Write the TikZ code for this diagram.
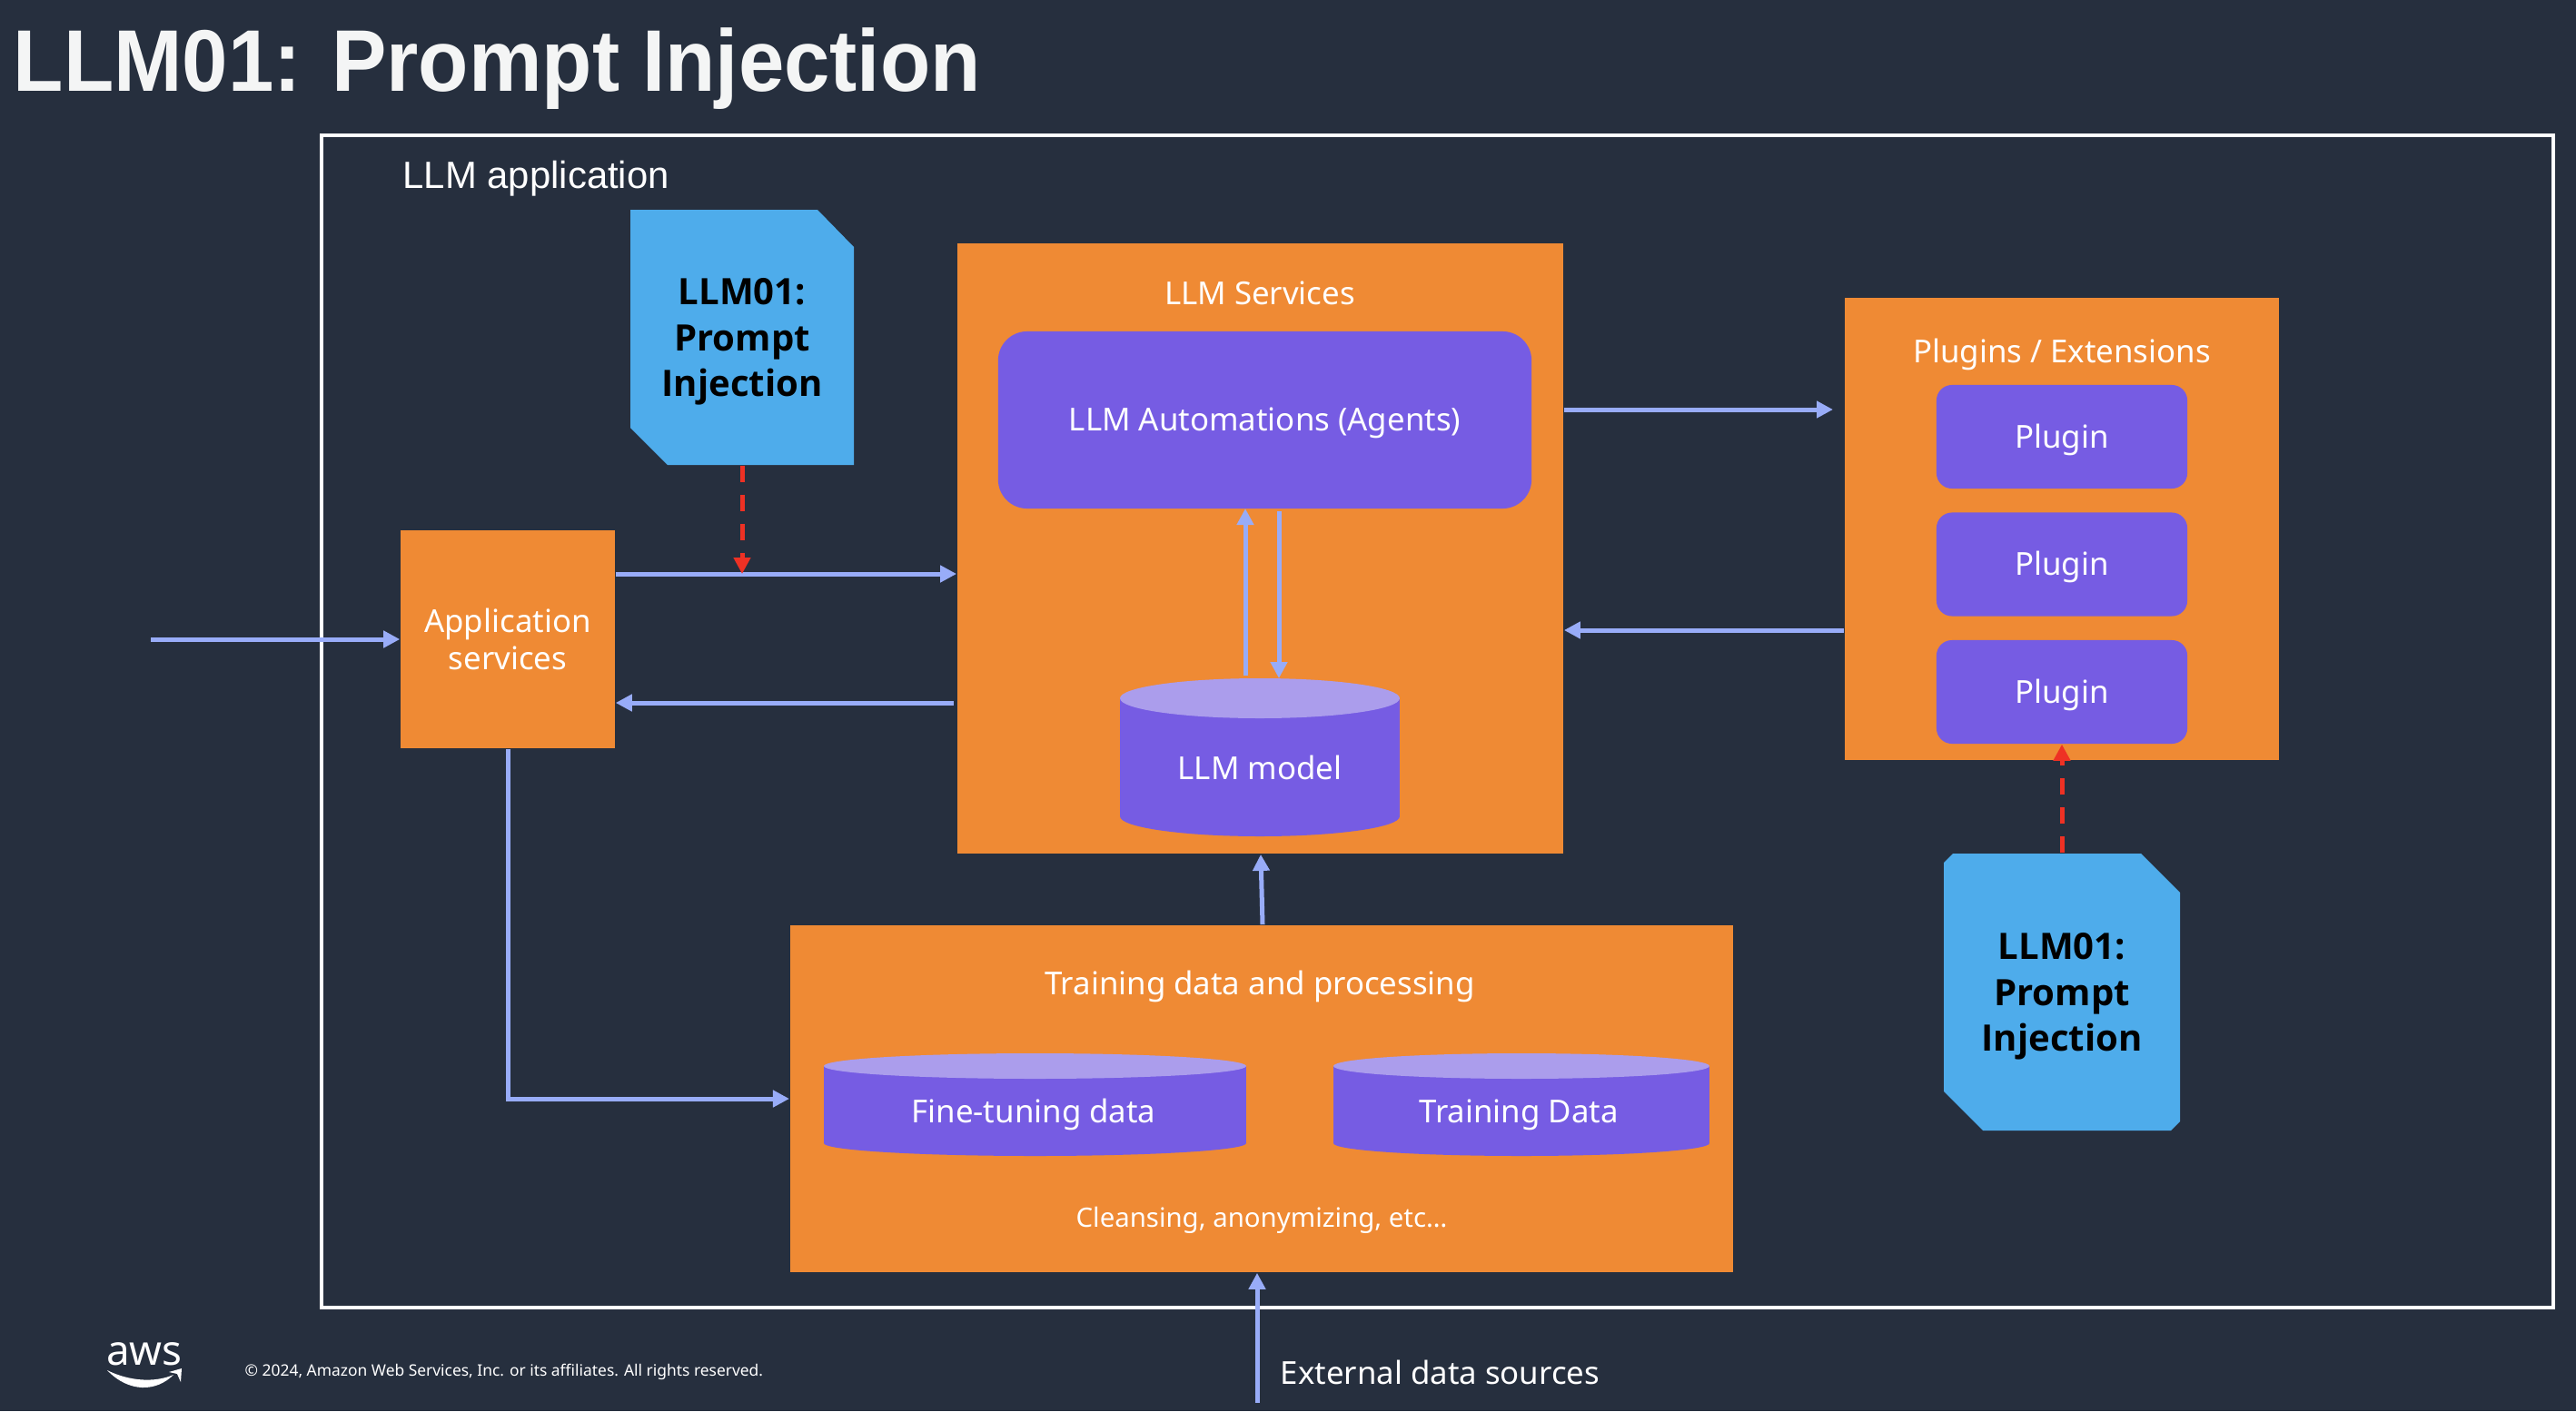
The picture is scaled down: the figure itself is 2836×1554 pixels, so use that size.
\documentclass[tikz,border=0pt]{standalone}
\usepackage{fontspec}
\setmainfont{Noto Sans}
\newfontfamily\titlefont[FakeStretch=0.94]{Liberation Sans}
\newfontfamily\helvfont{Liberation Sans}
\newfontfamily\notefont{Open Sans}
\usetikzlibrary{arrows.meta}
\definecolor{slidebg}{RGB}{38,47,62}
\definecolor{awsorange}{RGB}{239,138,52}
\definecolor{awspurple}{RGB}{118,92,227}
\definecolor{lightpurple}{RGB}{171,157,236}
\definecolor{noteblue}{RGB}{78,172,235}
\definecolor{flowblue}{RGB}{152,172,248}
\definecolor{injectred}{RGB}{238,49,36}
\tikzset{
    orangebox/.style={fill=awsorange, text=white, inner sep=0pt, align=center, font=\fontsize{9.9}{11.8}\selectfont},
    pluginbox/.style={fill=awspurple, text=white, rounded corners=0.17cm, inner sep=0pt, minimum width=2.76cm, minimum height=1.14cm, text height=0.71em, text depth=0pt, font=\fontsize{9.9}{12}\selectfont},
    boxlabel/.style={text=white, inner sep=0pt, text height=0.71em, text depth=0pt, font=\fontsize{9.9}{12}\selectfont},
    notelabel/.style={inner sep=0pt, align=center, text=black, font=\notefont\fontsize{11.4}{14.37}\selectfont\bfseries},
    flow/.style={draw=flowblue, line width=0.05cm, -{Triangle[length=0.18cm,width=0.18cm]}},
    inject/.style={draw=injectred, line width=0.05cm, dash pattern=on 0.18cm off 0.14cm, -{Triangle[length=0.18cm,width=0.18cm]}}
}
% centre x, y of the lid, y of the base, radii
\newcommand{\datadrum}[5]{
    \fill[awspurple] (#1-#4,#2) rectangle (#1+#4,#3);
    \fill[awspurple] (#1,#3) ellipse [x radius=#4, y radius=#5];
    \fill[lightpurple] (#1,#2) ellipse [x radius=#4, y radius=#5];
}
\begin{document}
\begin{tikzpicture}[x=0.01cm,y=-0.01cm]
    % Slide background
    \fill[slidebg] (0,0) rectangle (2836,1554);
    \useasboundingbox (0,0) rectangle (2836,1554);
    % Title and outer frame
    \node[anchor=west, inner sep=0pt, text height=0.69cm, text depth=0pt, text=white!95!slidebg, font=\titlefont\fontsize{27.4}{32}\selectfont\bfseries] (title) at (14,65.5) {LLM01: Prompt Injection};
    \draw[white, line width=0.035cm] (354,149) rectangle (2811,1440);
    \node[anchor=west, inner sep=0pt, text height=0.30cm, text depth=0pt, text=white, font=\helvfont\fontsize{11.9}{14}\selectfont] (applabel) at (443,192) {LLM application};
    % Boxes
    \node[orangebox, minimum width=2.36cm, minimum height=2.40cm] (appservices) at (559,704) {Application\\services};
    \node[orangebox, minimum width=6.67cm, minimum height=6.72cm] (llmservices) at (1387.5,604) {};
    \node[orangebox, minimum width=4.78cm, minimum height=5.09cm] (plugins) at (2270,582.5) {};
    \node[orangebox, minimum width=10.38cm, minimum height=3.82cm] (training) at (1389,1210) {};
    \node[boxlabel] (llmlabel) at (1387,323) {LLM Services};
    \node[boxlabel] (pluginslabel) at (2270,387) {Plugins / Extensions};
    \node[boxlabel] (traininglabel) at (1387,1083) {Training data and processing};
    \node[boxlabel, font=\fontsize{8.35}{10}\selectfont] (cleanlabel) at (1389,1339) {Cleansing, anonymizing, etc\dots};
    % Purple parts
    \node[fill=awspurple, text=white, rounded corners=0.32cm, inner sep=0pt, minimum width=5.87cm, minimum height=1.95cm, text height=0.71em, text depth=0pt, font=\fontsize{9.9}{12}\selectfont] (agents) at (1392.5,462.5) {LLM Automations (Agents)};
    \node[pluginbox] (pluginone) at (2270,481) {Plugin};
    \node[pluginbox] (plugintwo) at (2270,621.5) {Plugin};
    \node[pluginbox] (pluginthree) at (2270,762) {Plugin};
    \datadrum{1387}{769}{899}{154}{22}
    \node[boxlabel] (modellabel) at (1387,846) {LLM model};
    \datadrum{1139.5}{1174}{1259}{232.5}{14}
    \node[boxlabel] (finelabel) at (1138,1224) {Fine-tuning data};
    \datadrum{1675}{1174}{1259}{207}{14}
    \node[boxlabel] (trainsetlabel) at (1672,1224) {Training Data};
    % The two notes
    \fill[noteblue] (694,231) -- (900,231) -- (940,272) -- (940,512) -- (735,512) -- (694,471) -- cycle;
    \node[notelabel, minimum width=2.46cm, minimum height=2.71cm] (noteapp) at (817,376.5) {LLM01:\\Prompt\\Injection};
    \fill[noteblue] (2150,940) -- (2357,940) -- (2400,983) -- (2400,1235) -- (2390,1245) -- (2183,1245) -- (2140,1202) -- (2140,950) -- cycle;
    \node[notelabel, minimum width=2.6cm, minimum height=3.15cm] (noteplugin) at (2270,1097.5) {LLM01:\\Prompt\\Injection};
    % Free ends of the outside arrows
    \coordinate (userin) at (166,704);
    \coordinate (external) at (1384,1545);
    \coordinate (pluginsin) at (2018,451);
    % Arrows
    \draw[flow] (userin) -- (appservices.west |- userin);
    \draw[flow] (appservices.east |- 0,632) -- (llmservices.west |- 0,632);
    \draw[flow] (1050,774) -- (appservices.east |- 0,774);
    \draw[flow] (llmservices.east |- pluginsin) -- (pluginsin);
    \draw[flow] (plugins.west |- 0,694) -- (llmservices.east |- 0,694);
    \draw[flow] (1371,744) -- (1371,560);
    \draw[flow] (1408,563) -- (1408,747);
    \draw[flow] (training.north -| 1390,0) -- (llmservices.south -| 1388,0);
    \draw[flow] (external) -- (training.south -| external);
    \draw[flow] (appservices.south) -- (appservices.south |- training.west) -- (training.west);
    \draw[inject] (noteapp.south) -- (noteapp.south |- 0,632);
    \draw[inject] (noteplugin.north) -- (pluginthree.south);
    % Footer
    \node[anchor=west, inner sep=0pt, text height=0.25cm, text depth=0pt, text=white, font=\fontsize{9.9}{12}\selectfont] (extlabel) at (1409,1512) {External data sources};
    \node[anchor=west, inner sep=0pt, text height=0.125cm, text depth=0pt, text=white, font=\fontsize{4.95}{6}\selectfont] (copyright) at (269,1509) {\copyright{} 2024, Amazon Web Services, Inc. or its affiliates. All rights reserved.};
    \node[inner sep=0pt, text=white, font=\fontsize{13}{15}\selectfont] (awslogo) at (159,1491) {aws};
    \fill[white] (118,1509) .. controls (142,1521) and (170,1523) .. (191,1514) .. controls (172,1533) and (142,1534) .. (118,1509) -- cycle;
    \fill[white] (186,1511) -- (200,1507) -- (199,1522) -- (195,1513) -- cycle;
\end{tikzpicture}
\end{document}
